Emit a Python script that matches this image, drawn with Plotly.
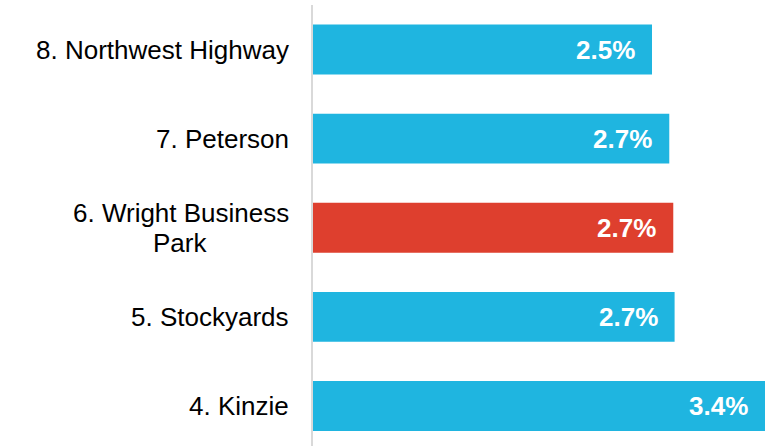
import plotly.graph_objects as go

# data
labels = ["8. Northwest Highway", "7. Peterson", "6. Wright Business<br>Park", "5. Stockyards", "4. Kinzie"]
values = [2.55, 2.68, 2.71, 2.72, 3.40]
value_text = ["2.5%", "2.7%", "2.7%", "2.7%", "3.4%"]
highlight = "6. Wright Business<br>Park"

blue = "#1FB5E0"
red = "#DE3F2E"
colors = [red if lab == highlight else blue for lab in labels]
font_family = "Liberation Sans, Arial"

fig = go.Figure()
fig.add_trace(go.Bar(
    y=labels,
    x=values,
    orientation="h",
    marker=dict(color=colors, line=dict(width=0)),
    hoverinfo="skip",
))

for lab, v, t in zip(labels, values, value_text):
    # value labels inside bar ends
    fig.add_annotation(
        x=v, y=lab, xref="x", yref="y", text="<b>%s</b>" % t,
        xanchor="right", yanchor="middle", xshift=-15, showarrow=False,
        font=dict(family=font_family, size=26, color="white"),
    )
    # category labels; wrapped ones get tighter lines, later lines centred under the first
    lines = lab.split("<br>")
    n = len(lines)
    for i, line in enumerate(lines):
        ys = ((n - 1) / 2 - i) * 30
        if i == 0:
            fig.add_annotation(
                x=0, y=lab, xref="paper", yref="y", text=line,
                xanchor="right", yanchor="middle", xshift=-22, yshift=ys,
                showarrow=False,
                font=dict(family=font_family, size=26, color="#000000"),
            )
        else:
            fig.add_annotation(
                x=0, y=lab, xref="paper", yref="y", text=line,
                xanchor="center", yanchor="middle", xshift=-22 - 111, yshift=ys,
                showarrow=False,
                font=dict(family=font_family, size=26, color="#000000"),
            )

fig.update_layout(
    width=782, height=446,
    margin=dict(l=313, r=17, t=5, b=0),
    plot_bgcolor="white", paper_bgcolor="white",
    bargap=0.44,
    showlegend=False,
)
fig.update_xaxes(range=[0, 3.4], visible=False)
fig.update_yaxes(
    type="category",
    range=[4.449, -0.5],
    showticklabels=False,
    showgrid=False,
    showline=True, linecolor="#D9D9D9", linewidth=2,
    zeroline=False,
)

fig.write_html("out.html", config={"displayModeBar": False},
               post_script="document.body.style.margin='0';")
